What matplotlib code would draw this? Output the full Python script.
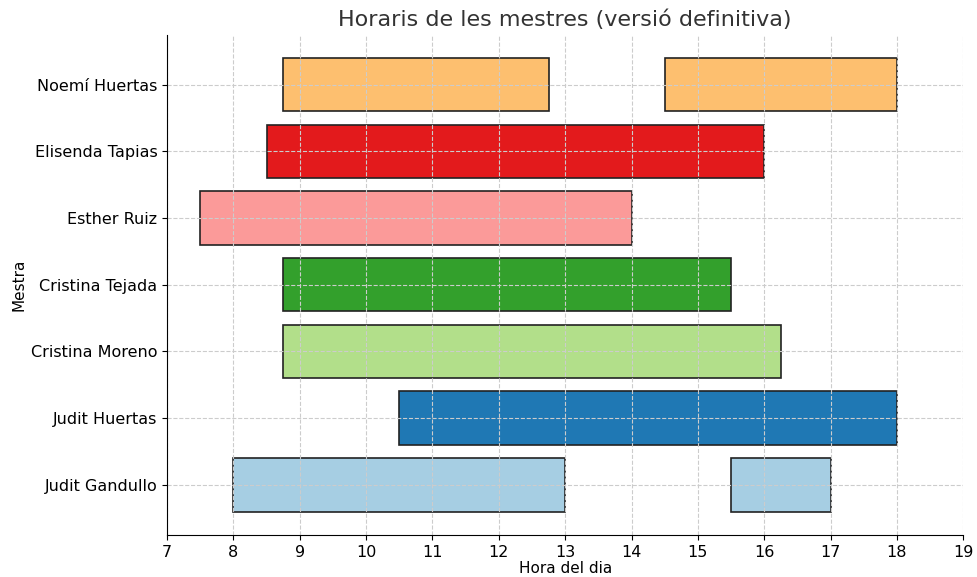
import matplotlib.pyplot as plt

mestres = ['Judit Gandullo', 'Judit Huertas', 'Cristina Moreno', 'Cristina Tejada',
           'Esther Ruiz', 'Elisenda Tapias', 'Noemí Huertas']
# (inici, durada) per a cada franja
franges = [
    [(8, 5), (15.5, 1.5)],
    [(10.5, 7.5)],
    [(8.75, 7.5)],
    [(8.75, 6.75)],
    [(7.5, 6.5)],
    [(8.5, 7.5)],
    [(8.75, 4), (14.5, 3.5)],
]
colors = ['#a6cee3', '#1f78b4', '#b2df8a', '#33a02c', '#fb9a99', '#e31a1c', '#fdbf6f']
hores = list(range(7, 20))

fig, ax = plt.subplots(figsize=(9.77, 5.77), dpi=100)
for i, (nom, fr) in enumerate(zip(mestres, franges)):
    for inici, durada in fr:
        ax.barh(i, durada, left=inici, height=0.8, color=colors[i],
                edgecolor='#222222', linewidth=1.2)

ax.set_yticks(range(len(mestres)), mestres, fontsize=11.5)
ax.set_xticks(hores)
ax.tick_params(axis='x', labelsize=11.5)
ax.set_xlim(7, 19)
ax.set_ylim(-0.75, 6.75)
ax.grid(True, linestyle='--', color='#cccccc', linewidth=0.8)
ax.spines['top'].set_visible(False)
ax.spines['right'].set_visible(False)
ax.set_xlabel('Hora del dia', fontsize=11, labelpad=1)
ax.set_ylabel('Mestra', fontsize=11, labelpad=3)
ax.set_title('Horaris de les mestres (versió definitiva)', fontsize=16, color='#333333')

plt.subplots_adjust(left=0.171, right=0.986, top=0.94, bottom=0.073)
plt.savefig('out.png')
